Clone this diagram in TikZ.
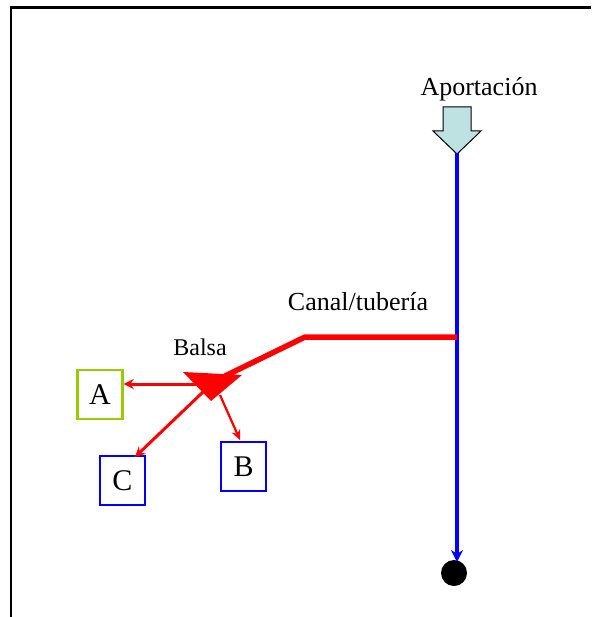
\documentclass[tikz,border=0pt]{standalone}
\usepackage{fontspec}
\setmainfont{Liberation Serif}
\usetikzlibrary{arrows.meta}
\definecolor{flowred}{RGB}{255,0,0}
\definecolor{flowblue}{RGB}{0,0,255}
\definecolor{boxgreen}{RGB}{153,204,0}
\definecolor{arrowfill}{RGB}{190,225,225}
\tikzset{
  lbl/.style={inner sep=0pt, font=\fontsize{26}{28}\selectfont},
  smalllbl/.style={inner sep=0pt, font=\fontsize{24}{26}\selectfont},
  letterbox/.style={line width=2.4pt, minimum width=45pt, minimum height=49pt, inner sep=0pt, font=\fontsize{30}{32}\selectfont},
  redarrow/.style={draw=flowred, line width=3pt, -{Stealth[length=10pt,width=10pt]}},
  thinredarrow/.style={draw=flowred, line width=2.2pt, -{Stealth[length=10pt,width=9pt]}},
}
\begin{document}
\begin{tikzpicture}[x=1pt,y=-1pt]
\useasboundingbox (0,0) rectangle (591,617);
% frame
\draw[line width=2.6pt] (591,7.5) -- (11,7.5) -- (11,617);
% labels
\node[lbl] (aport) at (479,89) {Aportación};
\node[lbl] (canal) at (358,302) {Canal/tubería};
\node[smalllbl] (balsa) at (200,347) {Balsa};
% inflow block arrow
\filldraw[fill=arrowfill, draw=black, line width=1pt]
  (443,107) -- (471,107) -- (471,131) -- (481,131) -- (457,154) -- (433,131) -- (443,131) -- cycle;
% blue line
\coordinate (btop) at (457,153);
\coordinate (junc) at (457,337);
\node[circle, fill=black, minimum size=26pt, inner sep=0pt] (sink) at (454,573) {};
\draw[flowblue, line width=3.4pt, -{Stealth[length=12pt,width=12pt]}] (btop) -- (457,562);
% canal
\coordinate (bend) at (305,337);
\coordinate (bal) at (225,376);
\draw[flowred, line width=5.5pt] (junc) -- (bend) -- (bal);
\fill[flowred] (183,372) -- (242,375) -- (211,401) -- cycle;
% boxes
\node[letterbox, draw=boxgreen] (A) at (100,394.5) {A};
\node[letterbox, draw=flowblue] (C) at (122.5,480.5) {C};
\node[letterbox, draw=flowblue] (B) at (243.5,466.5) {B};
% outflow arrows
\draw[redarrow] (205,384) -- (A.east |- 0,384);
\draw[redarrow] (203,392) -- (135,457);
\draw[thinredarrow] (220,395) -- (240,440);
\end{tikzpicture}
\end{document}
